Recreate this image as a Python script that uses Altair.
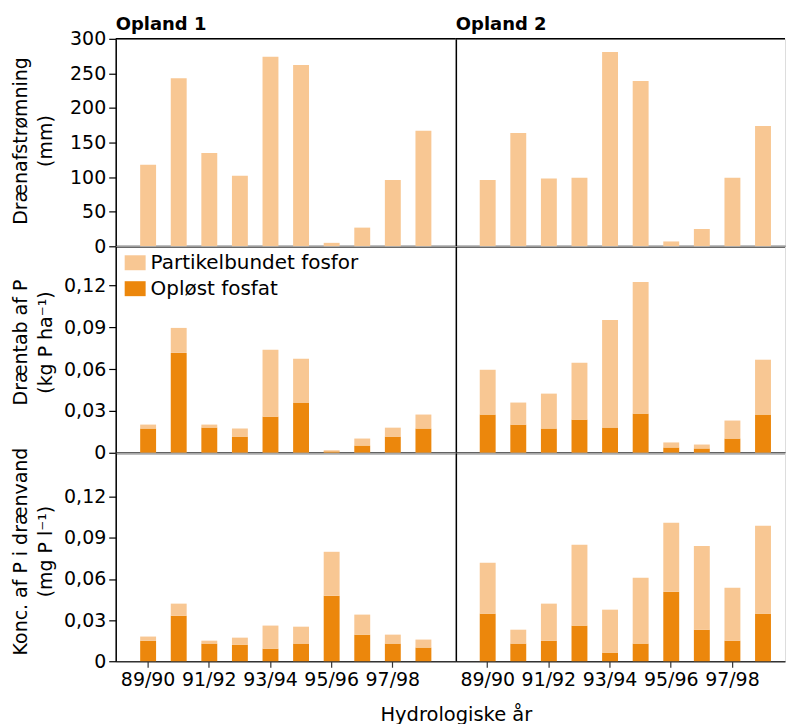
import altair as alt
import pandas as pd

years = ["89/90", "90/91", "91/92", "92/93", "93/94", "94/95", "95/96", "96/97", "97/98", "98/99"]
tick_years = ["89/90", "91/92", "93/94", "95/96", "97/98"]
series_names = ["Partikelbundet fosfor", "Opløst fosfat"]
panel_titles = ["Opland 1", "Opland 2"]

# Drænafstrømning (mm)
flow_o1 = [118, 243, 135, 102, 274, 262, 5, 27, 96, 167]
flow_o2 = [96, 164, 98, 99, 281, 239, 7, 25, 99, 174]

# Dræntab af P (kg P/ha)
loss_diss_o1 = [0.0174, 0.0716, 0.0181, 0.0116, 0.0259, 0.0360, 0.0010, 0.0052, 0.0116, 0.0174]
loss_part_o1 = [0.0028, 0.0179, 0.0021, 0.0058, 0.0479, 0.0314, 0.0008, 0.0050, 0.0064, 0.0100]
loss_diss_o2 = [0.0274, 0.0202, 0.0174, 0.0238, 0.0181, 0.0281, 0.0038, 0.0031, 0.0102, 0.0274]
loss_part_o2 = [0.0321, 0.0158, 0.0250, 0.0407, 0.0771, 0.0943, 0.0036, 0.0028, 0.0129, 0.0393]

# Konc. af P i drænvand (mg P/l)
conc_diss_o1 = [0.0150, 0.0332, 0.0129, 0.0121, 0.0092, 0.0129, 0.0478, 0.0194, 0.0129, 0.0100]
conc_part_o1 = [0.0030, 0.0088, 0.0021, 0.0051, 0.0168, 0.0123, 0.0320, 0.0146, 0.0065, 0.0058]
conc_diss_o2 = [0.0347, 0.0129, 0.0150, 0.0260, 0.0063, 0.0129, 0.0507, 0.0230, 0.0150, 0.0347]
conc_part_o2 = [0.0371, 0.0101, 0.0270, 0.0589, 0.0313, 0.0480, 0.0502, 0.0611, 0.0386, 0.0640]

LIGHT = "#F8C793"
DARK = "#EC870C"
FONT = "DejaVu Sans"

W_LEFT, W_RIGHT = 341, 330
H = [208, 207, 209]
TITLE_Y = [102, 96, 98.5]
Y_DOMAINS = [[0, 300], [0, 0.148], [0, 0.152]]
Y_VALUES = [[0, 50, 100, 150, 200, 250, 300], [0, 0.03, 0.06, 0.09, 0.12], [0, 0.03, 0.06, 0.09, 0.12]]
Y_TITLES = [["Drænafstrømning", "(mm)"], ["Dræntab af P", "(kg P ha⁻¹)"], ["Konc. af P i drænvand", "(mg P l⁻¹)"]]
LABEL_EXPR = ["datum.value",
              "datum.value == 0 ? '0' : replace(format(datum.value, '.2f'), '.', ',')",
              "datum.value == 0 ? '0' : replace(format(datum.value, '.2f'), '.', ',')"]


def x_scale(col):
    if col == 0:
        return alt.Scale(domain=years, paddingInner=0.48, paddingOuter=0.8, align=0.5)
    return alt.Scale(domain=years, paddingInner=0.48, paddingOuter=0.62, align=0.63)


def x_axis(row, col):
    if row < 2:
        return alt.Axis(domain=True, domainColor="black", domainWidth=2, ticks=False,
                        labels=False, title=None, grid=False)
    kw = dict(values=tick_years, labelAngle=0, domain=True, domainColor="#333333", domainWidth=1.5,
              ticks=True, tickSize=6, tickColor="#333333", tickWidth=1.2, labelFontSize=19,
              labelPadding=3, labelColor="black", grid=False)
    if col == 0:
        return alt.Axis(title="Hydrologiske år", titleX=W_LEFT, titleY=59, titleAlign="center",
                        titleAnchor="start", titleBaseline="alphabetic", titleFontSize=19.5,
                        titleFontWeight="normal", titleColor="black", **kw)
    return alt.Axis(title=None, **kw)


def y_axis(row, col):
    if col == 0:
        return alt.Axis(values=Y_VALUES[row], labelExpr=LABEL_EXPR[row], domain=True,
                        domainColor="black", domainWidth=1.5, ticks=True, tickSize=7,
                        tickColor="black", tickWidth=1.2, labelFontSize=19, labelPadding=3,
                        labelColor="black", grid=False, title=Y_TITLES[row], titleX=-104,
                        titleY=TITLE_Y[row], titleAngle=270, titleAlign="center",
                        titleBaseline="top", titleFontSize=19, titleFontWeight="normal",
                        titleLineHeight=24.5, titleColor="black")
    return alt.Axis(domain=True, domainColor="black", domainWidth=1.5, ticks=False,
                    labels=False, title=None, grid=False)


def panel(row, col):
    w = W_LEFT if col == 0 else W_RIGHT
    x = alt.X("year:N", scale=x_scale(col), axis=x_axis(row, col), sort=years)
    yscale = alt.Scale(domain=Y_DOMAINS[row], nice=False, zero=True)
    if row == 0:
        flow = flow_o1 if col == 0 else flow_o2
        df = pd.DataFrame({"year": years, "value": flow})
        bars = alt.Chart(df).mark_bar(color=LIGHT).encode(
            x=x, y=alt.Y("value:Q", scale=yscale, axis=y_axis(row, col)))
        top = alt.Chart(pd.DataFrame({"value": [300]})).mark_rule(color="black", strokeWidth=1.5).encode(
            y=alt.Y("value:Q", scale=yscale, axis=y_axis(row, col)))
        head = alt.Chart(pd.DataFrame({"t": [panel_titles[col]]})).mark_text(
            align="left", baseline="alphabetic", fontSize=18, fontWeight="bold", font=FONT,
            color="black").encode(text="t:N", x=alt.value(0), y=alt.value(-8.5))
        return alt.layer(bars, top, head).properties(width=w, height=H[row])
    if row == 1:
        diss, part = (loss_diss_o1, loss_part_o1) if col == 0 else (loss_diss_o2, loss_part_o2)
    else:
        diss, part = (conc_diss_o1, conc_part_o1) if col == 0 else (conc_diss_o2, conc_part_o2)
    df = pd.concat([
        pd.DataFrame({"year": years, "value": diss, "type": series_names[1], "ord": 0}),
        pd.DataFrame({"year": years, "value": part, "type": series_names[0], "ord": 1}),
    ])
    if row == 1 and col == 0:
        legend = alt.Legend(title=None, orient="none", legendX=9, legendY=6, padding=0,
                            symbolType="M-1,-0.714H1V0.714H-1Z", symbolSize=441,
                            symbolStrokeWidth=0, symbolOpacity=1, labelFontSize=20,
                            labelFont=FONT, labelColor="black", labelOffset=5, rowPadding=5,
                            labelLimit=400)
    else:
        legend = None
    return alt.Chart(df).mark_bar().encode(
        x=x,
        y=alt.Y("value:Q", stack="zero", scale=yscale, axis=y_axis(row, col)),
        color=alt.Color("type:N", scale=alt.Scale(domain=series_names, range=[LIGHT, DARK]),
                        legend=legend),
        order=alt.Order("ord:Q"),
    ).properties(width=w, height=H[row])


panels = [panel(r, c) for r in range(3) for c in range(2)]

chart = alt.concat(*panels, columns=2, spacing=0, bounds="flush").resolve_scale(
    color="independent", x="independent", y="independent").resolve_legend(
    color="independent").properties(
    padding={"left": 11, "top": 15, "right": -1, "bottom": -1}
).configure_view(strokeWidth=0, stroke="transparent").configure_axis(
    labelFont=FONT, titleFont=FONT).configure(font=FONT, background="white")

chart.save("out.html", embed_options={"renderer": "svg", "actions": False})
